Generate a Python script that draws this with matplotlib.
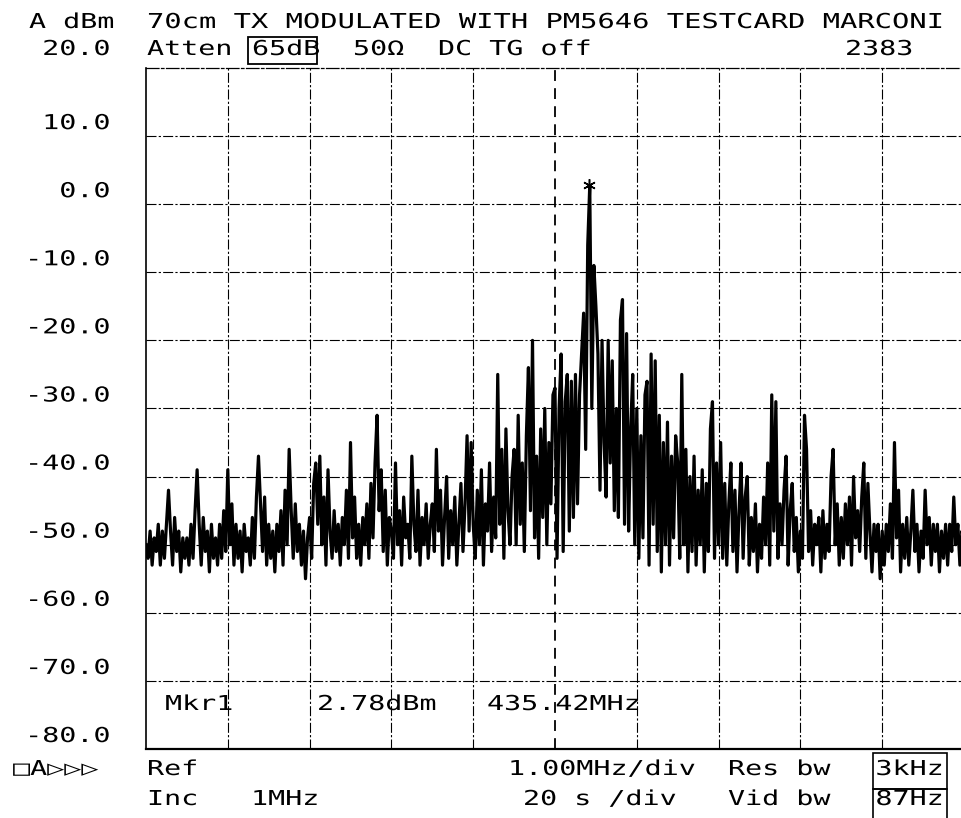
import numpy as np
import matplotlib
matplotlib.use("Agg")
import matplotlib.pyplot as plt
from matplotlib.patheffects import AbstractPathEffect
from matplotlib.transforms import Affine2D, blended_transform_factory, offset_copy
from matplotlib.patches import Rectangle

# ---- sweep settings -------------------------------------------------------
start_mhz, stop_mhz = 430.0, 440.0
center_mhz = 435.0
ref_level_dbm, bottom_dbm = 20.0, -80.0
y_tick_values = [20, 10, 0, -10, -20, -30, -40, -50, -60, -70, -80]
y_tick_labels = ["20.0", "10.0", "0.0", "-10.0", "-20.0", "-30.0", "-40.0",
                 "-50.0", "-60.0", "-70.0", "-80.0"]

# ---- 401-point trace (dBm) ------------------------------------------------
trace_dbm = [
    -50, -52, -48, -53, -49, -51, -47, -53, -48, -52, -47, -42, -48, -53, -46, -51, -48, -54, -49, -52,
    -49, -53, -47, -52, -45, -39, -47, -53, -46, -51, -48, -54, -47, -52, -49, -53, -47, -52, -45, -51,
    -39, -50, -44, -53, -47, -52, -48, -54, -47, -51, -49, -53, -46, -52, -43, -37, -44, -51, -43, -53,
    -47, -52, -48, -54, -47, -51, -45, -53, -42, -50, -36, -45, -52, -44, -51, -47, -53, -48, -55, -49,
    -46, -52, -41, -38, -47, -37, -50, -43, -53, -39, -48, -52, -45, -51, -47, -53, -46, -50, -42, -52,
    -35, -49, -43, -52, -47, -53, -46, -50, -44, -52, -41, -49, -38, -31, -45, -39, -51, -42, -53, -46,
    -48, -52, -38, -50, -45, -53, -43, -49, -47, -52, -37, -47, -51, -42, -53, -46, -50, -44, -52, -47,
    -44, -51, -36, -48, -42, -53, -46, -40, -52, -45, -50, -43, -53, -47, -41, -51, -44, -34, -48, -35,
    -47, -52, -42, -50, -39, -53, -44, -48, -38, -51, -43, -49, -25, -47, -36, -52, -33, -45, -50, -40,
    -36, -50, -31, -47, -38, -51, -34, -24, -45, -20, -49, -37, -52, -33, -46, -30, -50, -35, -44, -28,
    -27, -52, -30, -22, -51, -29, -25, -48, -26, -46, -25, -44, -28, -22, -16, -36, -6, 2.78, -30, -9,
    -15, -22, -42, -20, -35, -43, -20, -38, -23, -45, -30, -46, -17, -14, -47, -19, -48, -33, -25, -50,
    -30, -52, -34, -49, -28, -26, -53, -22, -47, -23, -51, -31, -54, -35, -50, -32, -53, -37, -49, -34,
    -38, -52, -25, -50, -36, -54, -40, -51, -37, -53, -42, -50, -39, -54, -41, -51, -33, -29, -52, -38,
    -50, -35, -52, -41, -53, -44, -38, -51, -42, -54, -45, -38, -52, -43, -40, -53, -46, -51, -44, -54,
    -47, -52, -43, -50, -38, -53, -28, -48, -29, -52, -44, -50, -42, -37, -53, -45, -41, -51, -46, -54,
    -48, -52, -31, -36, -51, -45, -53, -47, -50, -46, -54, -45, -52, -47, -51, -40, -36, -50, -44, -53,
    -46, -52, -44, -50, -43, -53, -40, -49, -45, -51, -43, -38, -52, -41, -48, -54, -47, -51, -47, -55,
    -48, -53, -47, -51, -44, -52, -35, -49, -42, -54, -47, -52, -46, -53, -48, -42, -51, -47, -54, -48,
    -52, -42, -50, -46, -53, -47, -51, -47, -54, -48, -52, -47, -53, -47, -51, -43, -50, -47, -53, -48,
    -51,
]

# ---- marker readout ---------------------------------------------------------
marker_name = "Mkr1"
marker_freq_mhz = 435.42
marker_level_dbm = 2.78

# ---- annotation strings ---------------------------------------------------
title_text = "70cm TX MODULATED WITH PM5646 TESTCARD MARCONI"
unit_text = "A dBm"
atten_text = "65dB"
impedance_text = "50\u03a9"
coupling_text = "DC TG off"
serial_text = "2383"
status_text = "\u25a1A\u25b7\u25b7\u25b7"
span_text = "1.00MHz/div"
sweep_text = "20 s /div"
rbw_text = "3kHz"
vbw_text = "87Hz"
inc_text = "1MHz"

W, H = 961, 818
fig = plt.figure(figsize=(W / 100, H / 100), dpi=100, facecolor="white")
ax = fig.add_axes([146 / W, 1 - 749 / H, 818 / W, 681 / H])


def fx(x):
    return x / W


def fy(y):
    return 1 - y / H


class Widen(AbstractPathEffect):
    """Stretch glyph outlines horizontally, like a pen-plotter font."""

    def __init__(self, sx, anchor="left"):
        super().__init__()
        self.sx = sx
        self.anchor = anchor

    def draw_path(self, renderer, gc, tpath, affine, rgbFace=None):
        x0 = 0.0
        if self.anchor == "right" and len(tpath.vertices):
            x0 = float(tpath.vertices[:, 0].max())
        pre = Affine2D().translate(-x0, 0).scale(self.sx, 1).translate(x0, 0)
        renderer.draw_path(gc, tpath, pre + affine, rgbFace)


FONT = dict(family=["DejaVu Sans Mono", "DejaVu Sans"], size=14.8, color="black")
SX = 1.38


def label(x, y, s, anchor="left", sx=SX):
    return fig.text(fx(x), fy(y), s, ha=anchor, va="baseline",
                    path_effects=[Widen(sx, anchor)], **FONT)


# ---- trace ------------------------------------------------------------------
freq_mhz = np.linspace(start_mhz, stop_mhz, len(trace_dbm))
ax.plot(freq_mhz, trace_dbm, color="black", lw=2.3, solid_joinstyle="round")
ax.plot([marker_freq_mhz], [marker_level_dbm], marker=(6, 2, 0), ms=9,
        mew=1.1, color="black", ls="none")

ax.set_xlim(start_mhz, stop_mhz)
ax.set_ylim(bottom_dbm, ref_level_dbm)

grid_x = [f for f in np.arange(start_mhz + 1, stop_mhz, 1.0) if abs(f - center_mhz) > 1e-6]
ax.set_xticks(grid_x)
ax.set_yticks(y_tick_values[1:-1])
ax.tick_params(length=0, labelbottom=False, labelleft=False)
ax.grid(True, color="black", lw=0.8, ls=(0, (9, 2, 2, 2)))
ax.axvline(center_mhz, color="black", lw=1.3, ls=(0, (6, 4)))

ax.spines["right"].set_visible(False)
ax.spines["top"].set_linestyle((0, (10, 2, 2, 2)))
ax.spines["top"].set_linewidth(0.9)
ax.spines["left"].set_linewidth(1.2)
ax.spines["bottom"].set_linewidth(1.6)

# ---- amplitude scale -----------------------------------------------------------
ytrans = blended_transform_factory(fig.transFigure, ax.transData)
for val, txt in zip(y_tick_values, y_tick_labels):
    dy = 13 if val == ref_level_dbm else 7
    ax.text(fx(110), val, txt, transform=offset_copy(ytrans, fig=fig, y=dy, units="dots"),
            ha="right", va="baseline", path_effects=[Widen(SX, "right")], **FONT,
            clip_on=False)

# ---- header -------------------------------------------------------------------
label(29, 28, unit_text)
label(147, 28, title_text, sx=1.40)
label(147, 55, "Atten")
label(252, 55, atten_text)
fig.patches.append(Rectangle((fx(248), fy(64)), (317 - 248) / W, (64 - 37) / H,
                             transform=fig.transFigure, fill=False, lw=1.3, ec="black"))
label(353, 55, impedance_text)
label(438, 55, coupling_text)
label(845, 55, serial_text)

# ---- marker readout -----------------------------------------------------------
label(165, 710, marker_name)
label(317, 710, f"{marker_level_dbm:.2f}dBm")
label(487, 710, f"{marker_freq_mhz:.2f}MHz")

# ---- footer -------------------------------------------------------------------
label(13, 775, status_text)
label(147, 775, "Ref")
label(508, 775, span_text)
label(728, 775, "Res bw")
label(943, 775, rbw_text, anchor="right")
label(147, 805, "Inc")
label(251, 805, inc_text)
label(523, 805, sweep_text)
label(728, 805, "Vid bw")
label(943, 805, vbw_text, anchor="right")
for top, bot in ((753, 789), (789, 830)):
    fig.patches.append(Rectangle((fx(873), fy(bot)), (947 - 873) / W, (bot - top) / H,
                                 transform=fig.transFigure, fill=False, lw=1.2, ec="black"))

fig.savefig("out.png", dpi=100, facecolor="white")
